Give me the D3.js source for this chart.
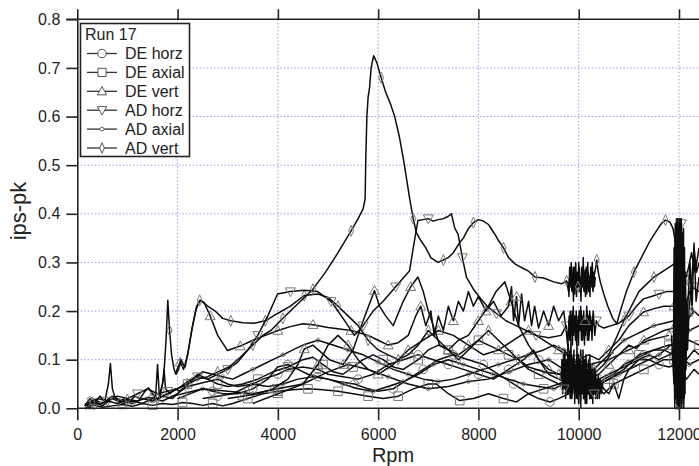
<!DOCTYPE html>
<html>
<head>
<meta charset="utf-8">
<script src="https://cdn.jsdelivr.net/npm/d3@7/dist/d3.min.js"></script>
<style>
  html, body { margin: 0; padding: 0; background: #ffffff; }
  svg { display: block; }
</style>
</head>
<body>
<svg id="chart" width="699" height="466"></svg>
<script>
// ---------------- DATA ----------------
const legendTitle = "Run 17";
const seriesNames = ["DE horz", "DE axial", "DE vert", "AD horz", "AD axial", "AD vert"];
const xTicks = [0, 2000, 4000, 6000, 8000, 10000, 12000];
const yTicks = [0.0, 0.1, 0.2, 0.3, 0.4, 0.5, 0.6, 0.7, 0.8];
const xTitle = "Rpm";
const yTitle = "ips-pk";

// each trace: [rpm, ips-pk]
const adVertA = [[150,0.005],[300,0.012],[450,0.008],[600,0.015],[800,0.01],[1000,0.018],[1200,0.015],[1400,0.022],[1600,0.02],[1800,0.03],[2000,0.04],[2200,0.05],[2400,0.06],[2600,0.065],[2800,0.075],[3027,0.085],[3250,0.105],[3500,0.13],[3700,0.15],[3860,0.16],[4100,0.185],[4400,0.215],[4700,0.245],[4950,0.28],[5200,0.32],[5460,0.365],[5600,0.39],[5700,0.41],[5740,0.43],[5755,0.52],[5775,0.6],[5800,0.64],[5830,0.66],[5860,0.70],[5910,0.725],[5970,0.712],[6060,0.68],[6150,0.65],[6250,0.625],[6330,0.6],[6420,0.56],[6500,0.515],[6570,0.47],[6630,0.43],[6700,0.39],[6760,0.362],[6850,0.345],[6950,0.33],[7050,0.31],[7193,0.30],[7300,0.305],[7400,0.31],[7500,0.32],[7627,0.341],[7700,0.35],[7800,0.37],[7900,0.382],[8000,0.388],[8100,0.385],[8200,0.378],[8327,0.358],[8400,0.345],[8500,0.33],[8600,0.31],[8727,0.297],[8850,0.29],[9000,0.282],[9127,0.27],[9300,0.268],[9500,0.26],[9660,0.256],[9760,0.262],[9800,0.24],[9830,0.285],[9860,0.245],[9890,0.29],[9920,0.235],[9950,0.28],[9980,0.25],[10010,0.29],[10040,0.24],[10070,0.275],[10100,0.245],[10130,0.285],[10160,0.235],[10190,0.28],[10220,0.25],[10250,0.29],[10280,0.245],[10310,0.275],[10340,0.29],[10360,0.305],[10390,0.28],[10430,0.26],[10500,0.235],[10580,0.21],[10680,0.185],[10760,0.174],[10830,0.2],[10950,0.24],[11100,0.28],[11250,0.31],[11400,0.34],[11550,0.365],[11650,0.38],[11730,0.387],[11820,0.383],[11880,0.37],[11930,0.34]];

const adHorzA = [[200,0.01],[400,0.02],[600,0.015],[800,0.025],[1000,0.02],[1200,0.03],[1400,0.04],[1600,0.03],[1800,0.035],[2000,0.04],[2200,0.055],[2400,0.065],[2600,0.06],[2800,0.07],[3000,0.08],[3200,0.095],[3400,0.12],[3600,0.15],[3800,0.19],[3993,0.235],[4250,0.24],[4527,0.243],[4793,0.24],[5060,0.22],[5300,0.185],[5527,0.15],[5700,0.17],[5900,0.2],[6100,0.22],[6350,0.25],[6627,0.283],[6700,0.33],[6793,0.386],[6900,0.388],[7000,0.39],[7100,0.385],[7200,0.388],[7300,0.39],[7400,0.395],[7460,0.40],[7530,0.37],[7593,0.358],[7680,0.31],[7760,0.27],[7900,0.245],[8050,0.225],[8193,0.208],[8360,0.195],[8550,0.18],[8750,0.17],[8950,0.16],[9150,0.15],[9400,0.145],[9650,0.15],[9750,0.17],[9780,0.13],[9810,0.19],[9840,0.14],[9870,0.2],[9900,0.15],[9930,0.18],[9960,0.13],[9990,0.19],[10020,0.16],[10050,0.2],[10080,0.14],[10110,0.18],[10140,0.15],[10170,0.2],[10200,0.14],[10230,0.19],[10260,0.16],[10290,0.2],[10320,0.15],[10350,0.18],[10400,0.17],[10500,0.165],[10650,0.17],[10800,0.175],[11000,0.19],[11150,0.21],[11293,0.225],[11450,0.23],[11600,0.235],[11750,0.24],[11900,0.24],[12150,0.22],[12250,0.25],[12400,0.24]];

const adVertB = [[1650,0.03],[1720,0.06],[1770,0.14],[1805,0.222],[1840,0.16],[1880,0.11],[1930,0.08],[1970,0.07],[2020,0.08],[2060,0.1],[2110,0.09],[2150,0.085],[2200,0.11],[2280,0.16],[2360,0.2],[2440,0.222],[2520,0.218],[2600,0.21],[2750,0.2],[2900,0.185],[3060,0.18],[3300,0.176],[3527,0.175],[3750,0.18],[3993,0.195],[4250,0.21],[4527,0.232],[4800,0.235],[5000,0.228],[5200,0.21],[5400,0.19],[5600,0.17],[5800,0.14],[6000,0.12],[6200,0.11],[6400,0.1],[6600,0.11],[6800,0.13],[7000,0.16],[7200,0.14],[7400,0.12],[7600,0.1],[7800,0.12],[8000,0.14],[8200,0.16],[8400,0.14],[8600,0.12],[8800,0.1],[9000,0.085],[9300,0.075],[9600,0.07],[9800,0.075],[10000,0.07],[10300,0.08],[10600,0.11],[10900,0.18],[11200,0.24],[11500,0.27],[11800,0.29],[11950,0.3],[12150,0.27],[12250,0.32],[12320,0.28],[12400,0.33]];

const deVertA = [[1950,0.07],[2050,0.095],[2120,0.08],[2200,0.11],[2300,0.17],[2380,0.21],[2460,0.222],[2540,0.215],[2650,0.19],[2800,0.15],[2993,0.119],[3250,0.128],[3500,0.14],[3750,0.15],[4000,0.16],[4250,0.168],[4500,0.174],[4700,0.172],[5000,0.166],[5460,0.16],[5800,0.15],[6000,0.14],[6200,0.13],[6400,0.135],[6600,0.15],[6750,0.19],[6850,0.21],[6950,0.17],[7050,0.2],[7120,0.15],[7200,0.19],[7300,0.16],[7400,0.21],[7500,0.18],[7600,0.22],[7700,0.2],[7800,0.24],[7900,0.21],[8000,0.23],[8150,0.2],[8300,0.22],[8450,0.19],[8600,0.21],[8660,0.25],[8700,0.18],[8760,0.23],[8800,0.17],[8860,0.235],[8920,0.18],[9000,0.22],[9060,0.17],[9120,0.21],[9200,0.165],[9300,0.2],[9400,0.17],[9500,0.21],[9600,0.18],[9700,0.2],[9800,0.12],[9900,0.09],[10000,0.1],[10200,0.11],[10400,0.1],[10600,0.12],[10800,0.14],[11000,0.17],[11293,0.198],[11500,0.205],[11700,0.21],[11900,0.21],[12150,0.18],[12300,0.2],[12400,0.19]];

const deHorzA = [[150,0.01],[250,0.0],[350,0.015],[500,0.005],[700,0.02],[900,0.01],[1100,0.015],[1300,0.01],[1500,0.02],[1700,0.015],[1900,0.025],[2100,0.03],[2300,0.035],[2500,0.04],[2700,0.035],[2900,0.03],[3200,0.03],[3500,0.04],[3800,0.06],[3993,0.085],[4200,0.09],[4400,0.08],[4600,0.07],[4800,0.065],[5000,0.06],[5200,0.055],[5527,0.05],[5800,0.04],[6000,0.035],[6300,0.04],[6600,0.06],[6900,0.08],[7200,0.1],[7500,0.11],[7800,0.1],[8100,0.09],[8400,0.07],[8700,0.05],[9000,0.03],[9200,0.02],[9427,0.013],[9600,0.02],[9800,0.03],[9830,0.07],[9860,0.02],[9890,0.08],[9920,0.03],[9950,0.09],[9980,0.02],[10010,0.07],[10040,0.03],[10070,0.08],[10100,0.02],[10130,0.06],[10160,0.03],[10190,0.09],[10220,0.02],[10250,0.07],[10280,0.04],[10310,0.08],[10340,0.03],[10400,0.05],[10500,0.06],[10700,0.07],[10900,0.09],[11100,0.1],[11300,0.11],[11500,0.12],[11700,0.12],[11900,0.11],[12150,0.1],[12300,0.12],[12400,0.11]];

const deAxialA = [[150,0.0],[300,0.008],[500,0.002],[700,0.005],[900,0.008],[1100,0.004],[1300,0.01],[1500,0.006],[1700,0.01],[1900,0.008],[2100,0.012],[2300,0.01],[2500,0.006],[2700,0.01],[2900,0.005],[3100,0.01],[3400,0.02],[3700,0.03],[4000,0.035],[4300,0.038],[4600,0.04],[4900,0.038],[5200,0.035],[5500,0.03],[5800,0.025],[6100,0.02],[6400,0.025],[6700,0.04],[7000,0.05],[7160,0.05],[7400,0.03],[7627,0.016],[7900,0.02],[8200,0.03],[8500,0.02],[8760,0.013],[9000,0.03],[9300,0.04],[9600,0.05],[9800,0.04],[9850,0.08],[9880,0.03],[9910,0.1],[9940,0.04],[9970,0.07],[10000,0.01],[10030,0.09],[10060,0.03],[10090,0.08],[10120,0.02],[10150,0.1],[10180,0.04],[10210,0.07],[10240,0.02],[10270,0.09],[10300,0.03],[10330,0.06],[10400,0.04],[10500,0.03],[10700,0.05],[10900,0.06],[11100,0.07],[11300,0.08],[11500,0.09],[11700,0.1],[11900,0.1],[12150,0.06],[12300,0.08],[12400,0.07]];

const deAxialB = [[1800,0.02],[2000,0.03],[2200,0.05],[2400,0.07],[2600,0.06],[2800,0.05],[3000,0.045],[3300,0.05],[3600,0.06],[3900,0.075],[4200,0.085],[4500,0.1],[4700,0.105],[4900,0.09],[5100,0.075],[5300,0.07],[5500,0.085],[5700,0.1],[5900,0.11],[6100,0.1],[6300,0.085],[6500,0.08],[6800,0.1],[7000,0.12],[7200,0.13],[7400,0.12],[7600,0.11],[7800,0.125],[8000,0.14],[8200,0.13],[8400,0.12],[8600,0.11],[8800,0.1],[9000,0.08],[9200,0.07],[9400,0.06],[9600,0.05],[9800,0.06],[10000,0.05],[10300,0.04],[10600,0.06],[10900,0.08],[11200,0.11],[11500,0.12],[11800,0.13],[11950,0.13],[12200,0.14],[12400,0.13]];

const adAxialA = [[150,0.005],[250,0.02],[350,0.01],[450,0.025],[550,0.015],[620,0.05],[660,0.092],[700,0.04],[760,0.02],[850,0.015],[950,0.02],[1050,0.015],[1150,0.025],[1250,0.02],[1350,0.035],[1420,0.042],[1500,0.03],[1560,0.02],[1600,0.09],[1640,0.02],[1700,0.05],[1730,0.08],[1760,0.04],[1850,0.03],[1950,0.04],[2050,0.035],[2200,0.045],[2400,0.05],[2600,0.055],[2800,0.06],[3000,0.05],[3200,0.045],[3500,0.05],[3800,0.045],[4100,0.05],[4400,0.06],[4700,0.065],[5000,0.06],[5300,0.05],[5600,0.04],[5900,0.035],[6200,0.045],[6500,0.055],[6800,0.07],[7100,0.09],[7400,0.1],[7700,0.09],[8000,0.08],[8300,0.07],[8600,0.06],[8900,0.05],[9200,0.045],[9500,0.04],[9700,0.05],[9740,0.09],[9770,0.03],[9800,0.1],[9830,0.02],[9860,0.11],[9890,0.04],[9920,0.1],[9950,0.02],[9980,0.09],[10010,0.03],[10040,0.12],[10070,0.04],[10100,0.1],[10130,0.01],[10160,0.09],[10190,0.03],[10220,0.11],[10250,0.02],[10280,0.08],[10310,0.03],[10340,0.07],[10370,0.02],[10400,0.06],[10500,0.04],[10600,0.03],[10700,0.05],[10800,0.02],[10900,0.06],[11000,0.08],[11200,0.1],[11400,0.11],[11600,0.1],[11800,0.11],[11950,0.12],[12200,0.09],[12400,0.1]];

const adAxialB = [[300,0.02],[500,0.01],[700,0.025],[900,0.015],[1100,0.01],[1300,0.02],[1500,0.015],[1700,0.025],[1900,0.02],[2100,0.04],[2300,0.06],[2500,0.075],[2700,0.07],[2900,0.065],[3100,0.06],[3300,0.07],[3500,0.08],[3700,0.09],[3900,0.1],[4100,0.11],[4300,0.12],[4500,0.13],[4800,0.14],[5100,0.13],[5400,0.12],[5700,0.11],[6000,0.095],[6300,0.08],[6600,0.07],[6900,0.06],[7200,0.055],[7500,0.06],[7800,0.07],[8100,0.08],[8400,0.09],[8700,0.1],[9000,0.11],[9300,0.12],[9500,0.13],[9700,0.12],[9900,0.1],[10100,0.08],[10300,0.07],[10500,0.09],[10700,0.12],[10900,0.14],[11100,0.15],[11300,0.16],[11500,0.17],[11700,0.175],[11900,0.18],[12200,0.16],[12400,0.17]];

const adAxialC = [[2000,0.02],[2500,0.04],[3000,0.035],[3500,0.03],[4000,0.04],[4500,0.05],[5000,0.075],[5400,0.09],[5800,0.08],[6200,0.065],[6600,0.05],[7000,0.04],[7400,0.045],[7800,0.055],[8200,0.06],[8600,0.075],[9000,0.09],[9400,0.1],[9700,0.08],[10000,0.06],[10400,0.05],[10800,0.07],[11200,0.09],[11600,0.11],[11950,0.14]];

const deVertB = [[3000,0.02],[3300,0.025],[3600,0.03],[3900,0.04],[4200,0.06],[4400,0.09],[4527,0.122],[4700,0.13],[5027,0.1],[5300,0.09],[5500,0.12],[5700,0.18],[5927,0.242],[6027,0.21],[6150,0.19],[6300,0.17],[6500,0.22],[6650,0.25],[6793,0.27],[6900,0.24],[7000,0.2],[7227,0.13],[7400,0.12],[7600,0.14],[7800,0.15],[8000,0.18],[8200,0.21],[8350,0.24],[8527,0.26],[8650,0.22],[8800,0.17],[9000,0.13],[9200,0.1],[9400,0.08],[9600,0.07],[9800,0.065],[10000,0.06],[10200,0.065],[10400,0.07],[10600,0.09],[10800,0.11],[11000,0.13],[11150,0.123],[11300,0.14],[11500,0.15],[11700,0.16],[11900,0.165]];

const deVertC = [[3500,0.01],[4000,0.03],[4500,0.05],[4800,0.09],[5000,0.13],[5200,0.15],[5400,0.13],[5600,0.1],[5800,0.08],[6000,0.07],[6300,0.09],[6600,0.12],[6900,0.14],[7200,0.16],[7500,0.15],[7800,0.13],[8100,0.11],[8400,0.12],[8700,0.14],[9000,0.16],[9300,0.14],[9600,0.12],[9900,0.1],[10200,0.09],[10600,0.1],[11000,0.12],[11400,0.14],[11800,0.15]];

const deHorzB = [[2500,0.02],[2800,0.025],[3100,0.03],[3400,0.045],[3700,0.06],[4000,0.07],[4200,0.08],[4500,0.085],[4800,0.08],[5000,0.07],[5300,0.065],[5600,0.06],[5900,0.07],[6200,0.09],[6500,0.1],[6800,0.11],[7100,0.1],[7400,0.09],[7700,0.08],[8000,0.07],[8300,0.06],[8600,0.08],[8900,0.1],[9100,0.12],[9200,0.1],[9400,0.07],[9600,0.06],[9800,0.05],[10000,0.06],[10200,0.05],[10400,0.06],[10600,0.07],[10800,0.08],[11000,0.09],[11200,0.1],[11400,0.1],[11600,0.09],[11800,0.085],[11950,0.09]];

const adVertNoise = [[9790,0.26],[9805,0.23],[9820,0.29],[9835,0.25],[9850,0.3],[9865,0.24],[9880,0.27],[9895,0.22],[9910,0.29],[9925,0.26],[9940,0.3],[9955,0.23],[9970,0.28],[9985,0.25],[10000,0.3],[10015,0.24],[10030,0.27],[10045,0.22],[10060,0.29],[10075,0.25],[10090,0.31],[10105,0.24],[10120,0.28],[10135,0.23],[10150,0.29],[10165,0.26],[10180,0.3],[10195,0.24],[10210,0.27],[10225,0.23],[10240,0.29],[10255,0.25],[10270,0.3],[10285,0.24],[10300,0.28],[10315,0.25],[10330,0.27]];

const deVertNoise = [[9800,0.18],[9815,0.14],[9830,0.2],[9845,0.15],[9860,0.19],[9875,0.13],[9890,0.21],[9905,0.16],[9920,0.19],[9935,0.14],[9950,0.2],[9965,0.15],[9980,0.18],[9995,0.13],[10010,0.2],[10025,0.16],[10040,0.21],[10055,0.14],[10070,0.19],[10085,0.15],[10100,0.2],[10115,0.13],[10130,0.18],[10145,0.16],[10160,0.21],[10175,0.14],[10190,0.19],[10205,0.15],[10220,0.2],[10235,0.16],[10250,0.18],[10265,0.14],[10280,0.19],[10300,0.17]];

const adHorzNoise = [[9650,0.06],[9665,0.1],[9680,0.03],[9695,0.11],[9710,0.04],[9725,0.12],[9740,0.02],[9755,0.1],[9770,0.05],[9785,0.13],[9800,0.03],[9815,0.11],[9830,0.06],[9845,0.14],[9860,0.02],[9875,0.1],[9890,0.05],[9905,0.12],[9920,0.01],[9935,0.09],[9950,0.04],[9965,0.13],[9980,0.02],[9995,0.11],[10010,0.05],[10025,0.1],[10040,0.0],[10055,0.09],[10070,0.03],[10085,0.12],[10100,0.02],[10115,0.1],[10130,0.04],[10145,0.11],[10160,0.01],[10175,0.08],[10190,0.03],[10205,0.1],[10220,0.02],[10235,0.09],[10250,0.04],[10265,0.08],[10280,0.01],[10295,0.07],[10310,0.03],[10325,0.08],[10340,0.02],[10355,0.06],[10370,0.03],[10390,0.07],[10410,0.02],[10430,0.06],[10450,0.03],[10480,0.05]];

const adHorzBand = [[11850,0.15],[11900,0.05],[11910,0.3],[11920,0.02],[11930,0.37],[11940,0.05],[11950,0.39],[11960,0.01],[11970,0.36],[11980,0.0],[11990,0.38],[12000,0.03],[12010,0.39],[12020,0.02],[12030,0.36],[12040,0.0],[12050,0.38],[12060,0.04],[12070,0.35],[12080,0.02],[12090,0.37],[12100,0.05],[12110,0.33],[12120,0.03],[12130,0.28],[12140,0.08],[12155,0.22],[12170,0.12],[12200,0.2],[12250,0.26],[12300,0.33],[12350,0.28],[12400,0.3]];

const adVertBand = [[11905,0.2],[11915,0.0],[11925,0.35],[11935,0.02],[11945,0.38],[11955,0.04],[11965,0.39],[11975,0.01],[11985,0.37],[11995,0.0],[12005,0.39],[12015,0.01],[12025,0.38],[12035,0.03],[12045,0.39],[12055,0.0],[12065,0.36],[12075,0.02],[12085,0.34],[12095,0.0],[12105,0.3],[12115,0.06],[12125,0.25],[12140,0.12],[12160,0.18],[12220,0.3],[12260,0.2],[12300,0.34],[12340,0.22],[12400,0.27]];

const adAxialBand = [[11890,0.1],[11902,0.33],[11914,0.01],[11926,0.38],[11938,0.03],[11950,0.36],[11962,0.0],[11974,0.39],[11986,0.02],[11998,0.37],[12010,0.0],[12022,0.39],[12034,0.03],[12046,0.37],[12058,0.01],[12070,0.36],[12082,0.04],[12094,0.32],[12106,0.02],[12118,0.26],[12130,0.1]];

// ---------------- CHART ----------------
const traces = [
  {series: "DE axial", data: deAxialA},
  {series: "AD axial", data: adAxialB},
  {series: "AD axial", data: adAxialC},
  {series: "DE horz", data: deHorzA},
  {series: "DE horz", data: deHorzB},
  {series: "DE axial", data: deAxialB},
  {series: "AD axial", data: adAxialA},
  {series: "DE vert", data: deVertC},
  {series: "DE vert", data: deVertB},
  {series: "DE vert", data: deVertA},
  {series: "AD vert", data: adVertB},
  {series: "AD horz", data: adHorzA},
  {series: "AD vert", data: adVertA},
  {series: "AD vert", data: adVertNoise},
  {series: "DE vert", data: deVertNoise},
  {series: "AD horz", data: adHorzNoise},
  {series: "AD horz", data: adHorzBand},
  {series: "AD vert", data: adVertBand},
  {series: "AD axial", data: adAxialBand}
];

const svg = d3.select("#chart");
const FONT = "'Liberation Sans', Arial, Helvetica, sans-serif";

const x = d3.scaleLinear().domain([0, 12000]).range([77.3, 679]);
const y = d3.scaleLinear().domain([0, 0.8]).range([408.3, 19.3]);
const plotRight = 720;

// grid
const grid = svg.append("g").attr("class", "grid");
grid.selectAll("line.gx").data(xTicks.filter(d => d > 0)).join("line")
  .attr("x1", d => x(d)).attr("x2", d => x(d))
  .attr("y1", y(0.8)).attr("y2", y(0))
  .attr("stroke", "#9a9ae0").attr("stroke-width", 1).attr("stroke-dasharray", "1.5,2");
grid.selectAll("line.gy").data(yTicks.filter(d => d > 0 && d < 0.8)).join("line")
  .attr("x1", x(0)).attr("x2", plotRight)
  .attr("y1", d => y(d)).attr("y2", d => y(d))
  .attr("stroke", "#9a9ae0").attr("stroke-width", 1).attr("stroke-dasharray", "1.5,2");

// clip
svg.append("defs").append("clipPath").attr("id", "clip")
  .append("rect").attr("x", x(0)).attr("y", y(0.8)).attr("width", plotRight - x(0)).attr("height", y(0) - y(0.8) + 2);

const plot = svg.append("g").attr("clip-path", "url(#clip)");
const line = d3.line().x(d => x(d[0])).y(d => y(d[1]));

// marker shapes
function markerPath(series, cx, cy, s) {
  s = s || 1;
  switch (series) {
    case "DE horz": { const r = 4.3 * s; return `M${cx - r},${cy}a${r},${r} 0 1,0 ${2*r},0a${r},${r} 0 1,0 ${-2*r},0Z`; }
    case "DE axial": { const h = 4.3 * s; return `M${cx-h},${cy-h}H${cx+h}V${cy+h}H${cx-h}Z`; }
    case "DE vert": { const h = 5 * s; return `M${cx},${cy-h}L${cx+h},${cy+h*0.75}L${cx-h},${cy+h*0.75}Z`; }
    case "AD horz": { const h = 5 * s; return `M${cx},${cy+h}L${cx+h},${cy-h*0.75}L${cx-h},${cy-h*0.75}Z`; }
    case "AD axial": { const h = 2.2 * s; return `M${cx-h*1.3},${cy}L${cx},${cy-h}L${cx+h*1.3},${cy}L${cx},${cy+h}Z`; }
    case "AD vert": { const w = 2.5 * s, h = 5.5 * s; return `M${cx},${cy-h}L${cx+w},${cy}L${cx},${cy+h}L${cx-w},${cy}Z`; }
  }
  return "";
}

traces.forEach((t, i) => {
  plot.append("path").datum(t.data)
    .attr("d", line)
    .attr("fill", "none")
    .attr("stroke", "#0d0d0d")
    .attr("stroke-width", 1.5)
    .attr("stroke-linejoin", "round");
  let last = -1e9;
  const offset = (i * 137) % 400;
  const mk = [];
  t.data.forEach((d, j) => {
    if (j === 0) { last = d[0] - 600 + offset; return; }
    if (d[0] - last >= 600) { mk.push(d); last = d[0]; }
  });
  plot.selectAll(null).data(mk).join("path")
    .attr("d", d => markerPath(t.series, x(d[0]), y(d[1])))
    .attr("fill", "none")
    .attr("stroke", "#777")
    .attr("stroke-width", 1);
});

// axes
const axisStyle = g => {
  g.selectAll("path.domain").attr("stroke", "#222").attr("stroke-width", 1.6);
  g.selectAll(".tick line").attr("stroke", "#222").attr("stroke-width", 1.6);
  g.selectAll("text").attr("font-family", FONT).attr("font-size", 16).attr("fill", "#222");
};

svg.append("g").attr("transform", `translate(0,${y(0)})`)
  .call(d3.axisBottom(x).tickValues(xTicks).tickSize(12).tickSizeOuter(0).tickPadding(8).tickFormat(d3.format("d")))
  .call(axisStyle)
  .call(g => g.select("path.domain").attr("d", `M${x(0)},0H${plotRight}`));

svg.append("g").attr("transform", `translate(0,${y(0.8)})`)
  .call(d3.axisTop(x).tickValues(xTicks).tickSize(10).tickSizeOuter(0).tickFormat(""))
  .call(axisStyle)
  .call(g => g.select("path.domain").attr("d", `M${x(0) - 11},0H${plotRight}`));

svg.append("g").attr("transform", `translate(${x(0)},0)`)
  .call(d3.axisLeft(y).tickValues(yTicks).tickSize(11).tickSizeOuter(0).tickPadding(6).tickFormat(d3.format(".1f")))
  .call(axisStyle);

// axis titles
svg.append("text").attr("x", 393).attr("y", 461.5).attr("text-anchor", "middle")
  .attr("font-family", FONT).attr("font-size", 20).attr("fill", "#222").text(xTitle);
svg.append("text").attr("transform", "translate(26,211) rotate(-90)").attr("text-anchor", "middle")
  .attr("font-family", FONT).attr("font-size", 22).attr("fill", "#222").text(yTitle);

// legend
const lg = svg.append("g");
lg.append("rect").attr("x", 80.5).attr("y", 23.5).attr("width", 109).attr("height", 133)
  .attr("fill", "#fff").attr("stroke", "#222").attr("stroke-width", 1.6);
lg.append("text").attr("x", 85).attr("y", 40).attr("font-family", FONT).attr("font-size", 16)
  .attr("fill", "#222").text(legendTitle);
seriesNames.forEach((name, i) => {
  const cy = 53.5 + i * 18.9;
  lg.append("line").attr("x1", 87).attr("x2", 117).attr("y1", cy).attr("y2", cy)
    .attr("stroke", "#333").attr("stroke-width", 1.3);
  lg.append("path").attr("d", markerPath(name, 102, cy, 0.95))
    .attr("fill", "#fff").attr("stroke", "#555").attr("stroke-width", 1);
  lg.append("text").attr("x", 125).attr("y", cy + 5.8).attr("font-family", FONT).attr("font-size", 16)
    .attr("fill", "#222").text(name);
});
</script>
</body>
</html>
